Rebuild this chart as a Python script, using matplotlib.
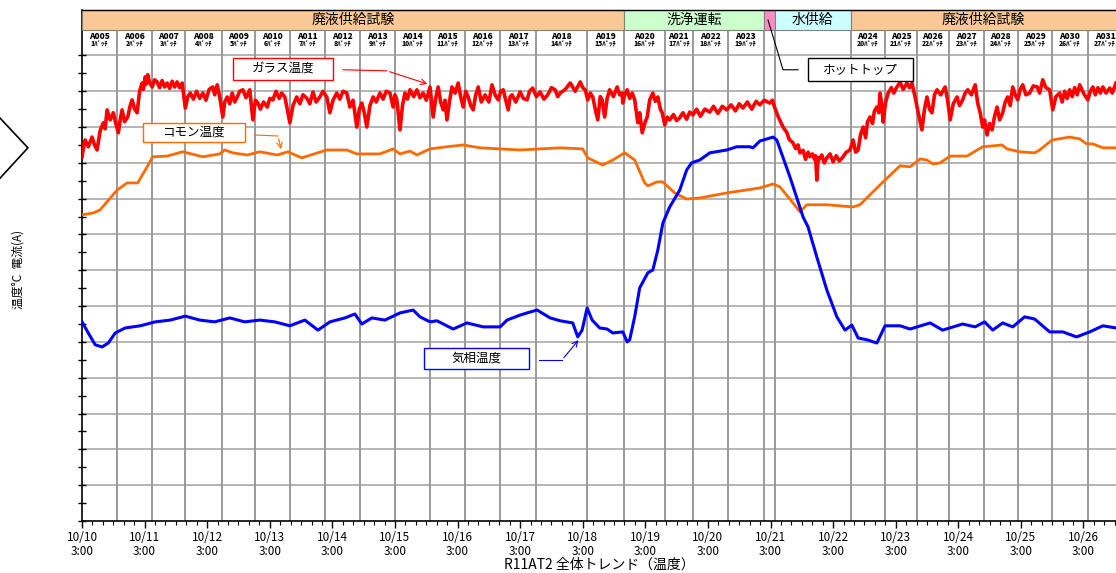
import matplotlib
matplotlib.use("Agg")
import matplotlib.pyplot as plt
from matplotlib.patches import Rectangle
from matplotlib.lines import Line2D
import matplotlib.transforms as mtransforms

plt.rcParams['font.family'] = ['Noto Sans CJK JP', 'DejaVu Sans']

# --- data (x: days since 10/10 3:00, y: deg C) ---
# glass temperature, (day, degC) pairs
glass = [(0.00, 1017), (0.03, 1050), (0.05, 1064), (0.10, 1045), (0.16, 1072), (0.20, 1050), (0.24, 1036),
         (0.29, 1090), (0.34, 1112), (0.37, 1095), (0.40, 1148), (0.45, 1120), (0.50, 1140), (0.54, 1110),
         (0.58, 1084), (0.61, 1120), (0.64, 1148), (0.68, 1115), (0.73, 1128), (0.77, 1160), (0.80, 1176),
         (0.84, 1150), (0.88, 1140), (0.92, 1200), (0.96, 1223), (0.98, 1205), (1.01, 1240), (1.03, 1220),
         (1.05, 1246), (1.08, 1225), (1.12, 1212), (1.16, 1232), (1.20, 1226), (1.24, 1210), (1.28, 1230),
         (1.32, 1212), (1.36, 1223), (1.40, 1208), (1.44, 1228), (1.48, 1212), (1.52, 1226), (1.56, 1210),
         (1.60, 1223), (1.65, 1153), (1.69, 1185), (1.73, 1195), (1.78, 1178), (1.83, 1200), (1.88, 1180),
         (1.93, 1195), (1.98, 1175), (2.03, 1205), (2.09, 1212), (2.12, 1190), (2.16, 1218), (2.20, 1184),
         (2.25, 1128), (2.28, 1170), (2.32, 1184), (2.36, 1165), (2.40, 1195), (2.44, 1170), (2.48, 1184),
         (2.52, 1200), (2.57, 1204), (2.62, 1182), (2.68, 1204), (2.73, 1120), (2.77, 1175), (2.81, 1167),
         (2.85, 1150), (2.90, 1170), (2.96, 1156), (3.00, 1180), (3.05, 1176), (3.10, 1200), (3.15, 1180),
         (3.19, 1195), (3.24, 1184), (3.28, 1150), (3.32, 1112), (3.37, 1160), (3.43, 1184), (3.48, 1165),
         (3.53, 1190), (3.59, 1181), (3.64, 1165), (3.69, 1198), (3.74, 1170), (3.80, 1184), (3.85, 1200),
         (3.91, 1184), (3.96, 1140), (4.01, 1175), (4.07, 1195), (4.12, 1178), (4.17, 1200), (4.23, 1195),
         (4.28, 1156), (4.33, 1175), (4.39, 1100), (4.43, 1150), (4.47, 1167), (4.51, 1140), (4.55, 1100),
         (4.60, 1160), (4.65, 1184), (4.70, 1170), (4.76, 1195), (4.81, 1178), (4.86, 1200), (4.92, 1195),
         (4.97, 1156), (5.00, 1190), (5.03, 1176), (5.08, 1092), (5.12, 1160), (5.16, 1195), (5.20, 1178),
         (5.24, 1204), (5.30, 1185), (5.35, 1204), (5.40, 1182), (5.45, 1195), (5.50, 1175), (5.56, 1212),
         (5.61, 1128), (5.65, 1180), (5.69, 1212), (5.73, 1170), (5.77, 1148), (5.80, 1175), (5.83, 1120),
         (5.87, 1170), (5.91, 1212), (5.96, 1195), (6.01, 1223), (6.05, 1185), (6.09, 1156), (6.13, 1200),
         (6.17, 1184), (6.21, 1160), (6.25, 1148), (6.29, 1190), (6.33, 1212), (6.38, 1170), (6.44, 1190),
         (6.50, 1170), (6.55, 1218), (6.60, 1190), (6.65, 1176), (6.69, 1200), (6.73, 1204), (6.77, 1175),
         (6.81, 1148), (6.84, 1185), (6.87, 1190), (6.93, 1170), (7.00, 1198), (7.05, 1180), (7.11, 1176),
         (7.15, 1200), (7.20, 1209), (7.26, 1185), (7.32, 1198), (7.38, 1178), (7.44, 1190), (7.50, 1210),
         (7.56, 1204), (7.60, 1185), (7.64, 1195), (7.72, 1205), (7.80, 1223), (7.88, 1200), (7.96, 1226),
         (8.00, 1210), (8.04, 1204), (8.08, 1176), (8.12, 1195), (8.16, 1184), (8.20, 1150), (8.24, 1120),
         (8.28, 1185), (8.31, 1176), (8.35, 1128), (8.39, 1180), (8.43, 1204), (8.49, 1185), (8.55, 1212),
         (8.59, 1190), (8.63, 1195), (8.64, 1167), (8.67, 1190), (8.71, 1204), (8.75, 1180), (8.79, 1195),
         (8.83, 1176), (8.88, 1112), (8.91, 1140), (8.95, 1084), (8.99, 1110), (9.03, 1128), (9.07, 1176),
         (9.12, 1195), (9.16, 1172), (9.20, 1184), (9.24, 1150), (9.27, 1140), (9.31, 1106), (9.35, 1128),
         (9.39, 1120), (9.45, 1135), (9.50, 1118), (9.55, 1126), (9.60, 1140), (9.66, 1122), (9.71, 1142),
         (9.76, 1134), (9.82, 1150), (9.88, 1130), (9.95, 1150), (10.03, 1142), (10.09, 1158), (10.16, 1138),
         (10.23, 1158), (10.30, 1148), (10.37, 1162), (10.44, 1145), (10.50, 1165), (10.56, 1153),
         (10.63, 1170), (10.70, 1150), (10.77, 1172), (10.83, 1162), (10.90, 1175), (10.99, 1167),
         (11.03, 1175), (11.07, 1153), (11.12, 1130), (11.20, 1100), (11.26, 1085), (11.30, 1065),
         (11.36, 1056), (11.40, 1040), (11.44, 1050), (11.47, 1028), (11.52, 1035), (11.56, 1010),
         (11.60, 1030), (11.63, 1017), (11.67, 1025), (11.71, 1008), (11.72, 1020), (11.74, 952),
         (11.76, 1015), (11.77, 1008), (11.82, 1022), (11.86, 1000), (11.90, 1014), (11.95, 1025),
         (12.00, 1003), (12.05, 1020), (12.10, 1005), (12.16, 1017), (12.21, 1030), (12.27, 1036),
         (12.32, 1064), (12.36, 1030), (12.40, 1036), (12.44, 1080), (12.48, 1100), (12.52, 1070),
         (12.55, 1115), (12.59, 1128), (12.63, 1110), (12.66, 1145), (12.70, 1156), (12.73, 1140),
         (12.75, 1195), (12.78, 1160), (12.80, 1114), (12.84, 1170), (12.88, 1195), (12.93, 1210),
         (12.97, 1195), (13.02, 1212), (13.07, 1225), (13.12, 1205), (13.18, 1223), (13.22, 1210),
         (13.26, 1223), (13.31, 1184), (13.36, 1140), (13.42, 1092), (13.46, 1150), (13.50, 1184),
         (13.54, 1150), (13.58, 1140), (13.62, 1190), (13.66, 1204), (13.72, 1190), (13.79, 1212),
         (13.83, 1175), (13.87, 1120), (13.92, 1165), (13.98, 1184), (14.02, 1160), (14.07, 1176),
         (14.11, 1195), (14.15, 1204), (14.21, 1190), (14.27, 1218), (14.31, 1167), (14.35, 1140),
         (14.39, 1100), (14.42, 1120), (14.46, 1078), (14.50, 1110), (14.54, 1092), (14.58, 1130),
         (14.62, 1156), (14.66, 1120), (14.71, 1140), (14.75, 1170), (14.79, 1184), (14.83, 1160),
         (14.87, 1212), (14.91, 1190), (14.95, 1176), (14.99, 1205), (15.03, 1218), (15.08, 1190),
         (15.14, 1195), (15.20, 1215), (15.26, 1212), (15.30, 1195), (15.35, 1232), (15.40, 1210),
         (15.46, 1204), (15.51, 1148), (15.56, 1185), (15.62, 1195), (15.66, 1170), (15.70, 1200),
         (15.74, 1180), (15.78, 1204), (15.82, 1185), (15.86, 1210), (15.90, 1190), (15.94, 1218),
         (16.00, 1195), (16.07, 1176), (16.11, 1200), (16.15, 1212), (16.19, 1190), (16.23, 1210),
         (16.27, 1195), (16.31, 1212), (16.36, 1195), (16.42, 1209), (16.46, 1195), (16.52, 1223)]
glass_x = [p[0] for p in glass]
glass_y = [p[1] for p in glass]

common_x = [0.00, 0.18, 0.29, 0.56, 0.72, 0.89, 1.04, 1.13, 1.36, 1.61, 1.93, 2.20, 2.28, 2.41, 2.64, 2.84,
            3.12, 3.29, 3.51, 3.91, 4.23, 4.39, 4.76, 4.97, 5.08, 5.24, 5.35, 5.56, 5.83, 6.09, 6.36, 7.00,
            7.64, 8.00, 8.08, 8.32, 8.48, 8.67, 8.83, 8.99, 9.04, 9.19, 9.28, 9.47, 9.66, 9.87, 10.30, 10.83,
            11.04, 11.15, 11.36, 11.47, 11.58, 11.90, 12.32, 12.43, 12.59, 12.80, 13.07, 13.23, 13.39, 13.50,
            13.59, 13.71, 13.87, 14.14, 14.39, 14.70, 14.78, 14.98, 15.22, 15.30, 15.50, 15.78, 15.94, 16.05,
            16.15, 16.31, 16.52]
common_y = [855, 860, 869, 924, 944, 944, 989, 1017, 1019, 1031, 1017, 1025, 1036, 1028, 1022, 1031,
            1022, 1031, 1014, 1036, 1036, 1025, 1025, 1039, 1025, 1033, 1022, 1039, 1045, 1050, 1042, 1036,
            1042, 1039, 1014, 994, 1008, 1028, 1008, 944, 936, 947, 947, 916, 899, 902, 916, 930,
            941, 933, 888, 863, 883, 883, 877, 883, 911, 947, 992, 989, 1011, 1008,
            997, 1000, 1019, 1019, 1045, 1050, 1039, 1031, 1028, 1036, 1064, 1072, 1067, 1053,
            1053, 1042, 1042]

vapor_x = [0.00, 0.10, 0.21, 0.32, 0.42, 0.53, 0.69, 0.93, 1.17, 1.41, 1.65, 1.88, 2.12, 2.36, 2.60, 2.84,
           3.08, 3.32, 3.56, 3.77, 3.96, 4.20, 4.36, 4.47, 4.63, 4.84, 5.08, 5.29, 5.40, 5.56, 5.67, 5.93,
           6.15, 6.41, 6.68, 6.79, 7.00, 7.11, 7.27, 7.48, 7.64, 7.84, 7.92, 7.99, 8.07, 8.15, 8.27, 8.39,
           8.48, 8.64, 8.71, 8.75, 8.83, 8.91, 9.04, 9.12, 9.20, 9.28, 9.39, 9.55, 9.66, 9.74, 9.87, 10.03,
           10.30, 10.46, 10.67, 10.72, 10.83, 11.04, 11.10, 11.31, 11.52, 11.60, 11.74, 11.90, 12.06, 12.19,
           12.30, 12.40, 12.54, 12.70, 12.83, 13.07, 13.23, 13.55, 13.75, 14.07, 14.27, 14.42, 14.55, 14.71,
           14.87, 15.06, 15.22, 15.46, 15.67, 15.89, 16.10, 16.31, 16.52]
vapor_y = [556, 525, 492, 486, 497, 525, 539, 545, 556, 561, 572, 561, 556, 567, 556, 561,
           556, 545, 561, 533, 556, 567, 578, 550, 567, 561, 581, 589, 570, 556, 559, 536,
           553, 542, 542, 561, 575, 581, 589, 567, 559, 553, 514, 533, 595, 561, 539, 536,
           525, 528, 500, 506, 570, 651, 693, 701, 757, 832, 877, 924, 980, 1000, 1008, 1028,
           1036, 1045, 1045, 1042, 1061, 1072, 1064, 961, 849, 821, 737, 645, 570, 533,
           547, 511, 506, 497, 545, 545, 536, 553, 533, 550, 542, 556, 533, 553,
           542, 570, 564, 528, 528, 514, 528, 545, 539]

# batch table (cell edges in days)
batch_names = ['A005', 'A006', 'A007', 'A008', 'A009', 'A010', 'A011', 'A012', 'A013', 'A014', 'A015',
               'A016', 'A017', 'A018', 'A019', 'A020', 'A021', 'A022', 'A023',
               'A024', 'A025', 'A026', 'A027', 'A028', 'A029', 'A030', 'A031']
batch_no = ['1ﾊﾞｯﾁ', '2ﾊﾞｯﾁ', '3ﾊﾞｯﾁ', '4ﾊﾞｯﾁ', '5ﾊﾞｯﾁ', '6ﾊﾞｯﾁ', '7ﾊﾞｯﾁ', '8ﾊﾞｯﾁ', '9ﾊﾞｯﾁ', '10ﾊﾞｯﾁ',
            '11ﾊﾞｯﾁ', '12ﾊﾞｯﾁ', '13ﾊﾞｯﾁ', '14ﾊﾞｯﾁ', '15ﾊﾞｯﾁ', '16ﾊﾞｯﾁ', '17ﾊﾞｯﾁ', '18ﾊﾞｯﾁ', '19ﾊﾞｯﾁ',
            '20ﾊﾞｯﾁ', '21ﾊﾞｯﾁ', '22ﾊﾞｯﾁ', '23ﾊﾞｯﾁ', '24ﾊﾞｯﾁ', '25ﾊﾞｯﾁ', '26ﾊﾞｯﾁ', '27ﾊﾞｯﾁ']
batch_start = [0.00, 0.56, 1.12, 1.65, 2.24, 2.76, 3.32, 3.88, 4.44, 5.00, 5.56, 6.12, 6.68, 7.25, 8.07,
               8.66, 9.31, 9.76, 10.32, 12.28, 12.83, 13.34, 13.85, 14.41, 14.95, 15.50, 16.07]
batch_end = [0.56, 1.12, 1.65, 2.24, 2.76, 3.32, 3.88, 4.44, 5.00, 5.56, 6.12, 6.68, 7.25, 8.07, 8.66,
             9.31, 9.76, 10.32, 10.89, 12.83, 13.34, 13.85, 14.41, 14.95, 15.50, 16.07, 16.62]
grid_days = [0.56, 1.12, 1.65, 2.24, 2.76, 3.32, 3.88, 4.44, 5.00, 5.56, 6.12, 6.68, 7.25, 8.07, 8.66,
             9.31, 9.76, 10.32, 10.89, 11.07, 12.28, 12.83, 13.34, 13.85, 14.41, 14.95, 15.50, 16.07]

phase_names = ['廃液供給試験', '洗浄運転', '', '水供給', '廃液供給試験']
phase_start = [0.00, 8.66, 10.89, 11.07, 12.28]
phase_end = [8.66, 10.89, 11.07, 12.28, 16.60]
phase_colors = ['#FAC896', '#CCFFCC', '#FF8CC6', '#CCFFFF', '#FAC896']

day_labels = ['10/10\n3:00', '10/11\n3:00', '10/12\n3:00', '10/13\n3:00', '10/14\n3:00', '10/15\n3:00',
              '10/16\n3:00', '10/17\n3:00', '10/18\n3:00', '10/19\n3:00', '10/20\n3:00', '10/21\n3:00',
              '10/22\n3:00', '10/23\n3:00', '10/24\n3:00', '10/25\n3:00', '10/26\n3:00']

fig = plt.figure(figsize=(11.16, 5.73), dpi=100)
ax = fig.add_axes([0.0735, 0.0908, 0.9265, 0.8918])
ax.set_xlim(0, 16.52)
ax.set_ylim(0, 1427)

# grid
for k in range(1, 14):
    ax.axhline(k * 100, color='#b4b4b4', lw=1.4, zorder=1)
for d in grid_days:
    ax.axvline(d, color='#9a9a9a', lw=1.4, zorder=1)

ax.plot(glass_x, glass_y, color='#ff0000', lw=2.6, zorder=4)
ax.plot(common_x, common_y, color='#ff6a00', lw=2.0, zorder=3)
ax.plot(vapor_x, vapor_y, color='#0000ff', lw=2.2, zorder=3)

# header
trans = mtransforms.blended_transform_factory(ax.transData, ax.transAxes)
for s, e, name, c in zip(phase_start, phase_end, phase_names, phase_colors):
    ax.add_patch(Rectangle((s, 0.961), e - s, 0.039, transform=trans, facecolor=c,
                           edgecolor='#808080', lw=0.8, zorder=5, clip_on=False))
    if name:
        ax.text((s + min(e, 16.52)) / 2, 0.981, name, transform=trans, ha='center', va='center',
                fontsize=10, zorder=6)
ax.plot([0, 16.52], [1.0, 1.0], transform=trans, color='black', lw=1.0, zorder=6, clip_on=False)
for s, e, n, b in zip(batch_start, batch_end, batch_names, batch_no):
    cx = (s + e) / 2
    ax.text(cx, 0.948, n, transform=trans, ha='center', va='center', fontsize=6,
            fontweight='heavy', zorder=6)
    ax.text(cx, 0.933, b, transform=trans, ha='center', va='center', fontsize=4.8,
            fontweight='heavy', zorder=6)

# annotation boxes
def label_box(x0, x1, y0, y1, text, ec):
    ax.add_patch(Rectangle((x0, y0), x1 - x0, y1 - y0, facecolor='white', edgecolor=ec,
                           lw=1.0, zorder=7))
    ax.text((x0 + x1) / 2, (y0 + y1) / 2, text, ha='center', va='center', fontsize=9, zorder=8)

label_box(2.41, 4.01, 1232, 1293, 'ガラス温度', '#ff0000')
ax.plot([4.17, 4.87], [1260, 1257], color='#ff0000', lw=0.8, zorder=7)
ax.annotate('', xy=(5.56, 1218), xytext=(4.87, 1257),
            arrowprops=dict(arrowstyle='->', color='#ff0000', lw=0.8), zorder=7)

label_box(0.97, 2.60, 1059, 1112, 'コモン温度', '#ff6a00')
ax.plot([2.76, 3.13], [1078, 1075], color='#ff6a00', lw=0.8, zorder=7)
ax.annotate('', xy=(3.19, 1031), xytext=(3.13, 1075),
            arrowprops=dict(arrowstyle='->', color='#ff6a00', lw=0.8), zorder=7)

label_box(5.46, 7.14, 425, 483, '気相温度', '#0000ff')
ax.plot([7.30, 7.67], [450, 450], color='#0000ff', lw=0.8, zorder=7)
ax.annotate('', xy=(7.96, 511), xytext=(7.67, 450),
            arrowprops=dict(arrowstyle='->', color='#0000ff', lw=0.8), zorder=7)

label_box(11.60, 13.27, 1229, 1293, 'ホットトップ', 'black')
ax.plot([11.44, 11.20, 10.96], [1260, 1260, 1399], color='black', lw=0.8, zorder=7, clip_on=False)

# axes styling
ax.spines['top'].set_visible(False)
ax.spines['right'].set_visible(False)
ax.spines['left'].set_linewidth(1.2)
ax.spines['bottom'].set_linewidth(1.2)
ax.set_yticks(range(0, 1301, 50))
ax.set_yticklabels([])
ax.tick_params(axis='y', direction='inout', length=6, width=1.0)
ax.set_xticks(range(17))
ax.set_xticklabels(day_labels, fontsize=8.5, linespacing=1.1)
ax.set_xticks([d / 6 for d in range(1, 100)], minor=True)
ax.tick_params(axis='x', which='major', direction='out', length=5, width=1.0, pad=2)
ax.tick_params(axis='x', which='minor', direction='out', length=3, width=0.8)
ax.set_xlabel('R11AT2 全体トレンド（温度）', fontsize=10, labelpad=0)

fig.text(0.016, 0.53, '温度°C  電流(A)', rotation=90, ha='center', va='center', fontsize=8.5)
fig.add_artist(Line2D([0.0, 0.025, 0.0], [0.794, 0.742, 0.689], transform=fig.transFigure,
                      color='black', lw=1.2))

fig.savefig('out.png', dpi=100)
